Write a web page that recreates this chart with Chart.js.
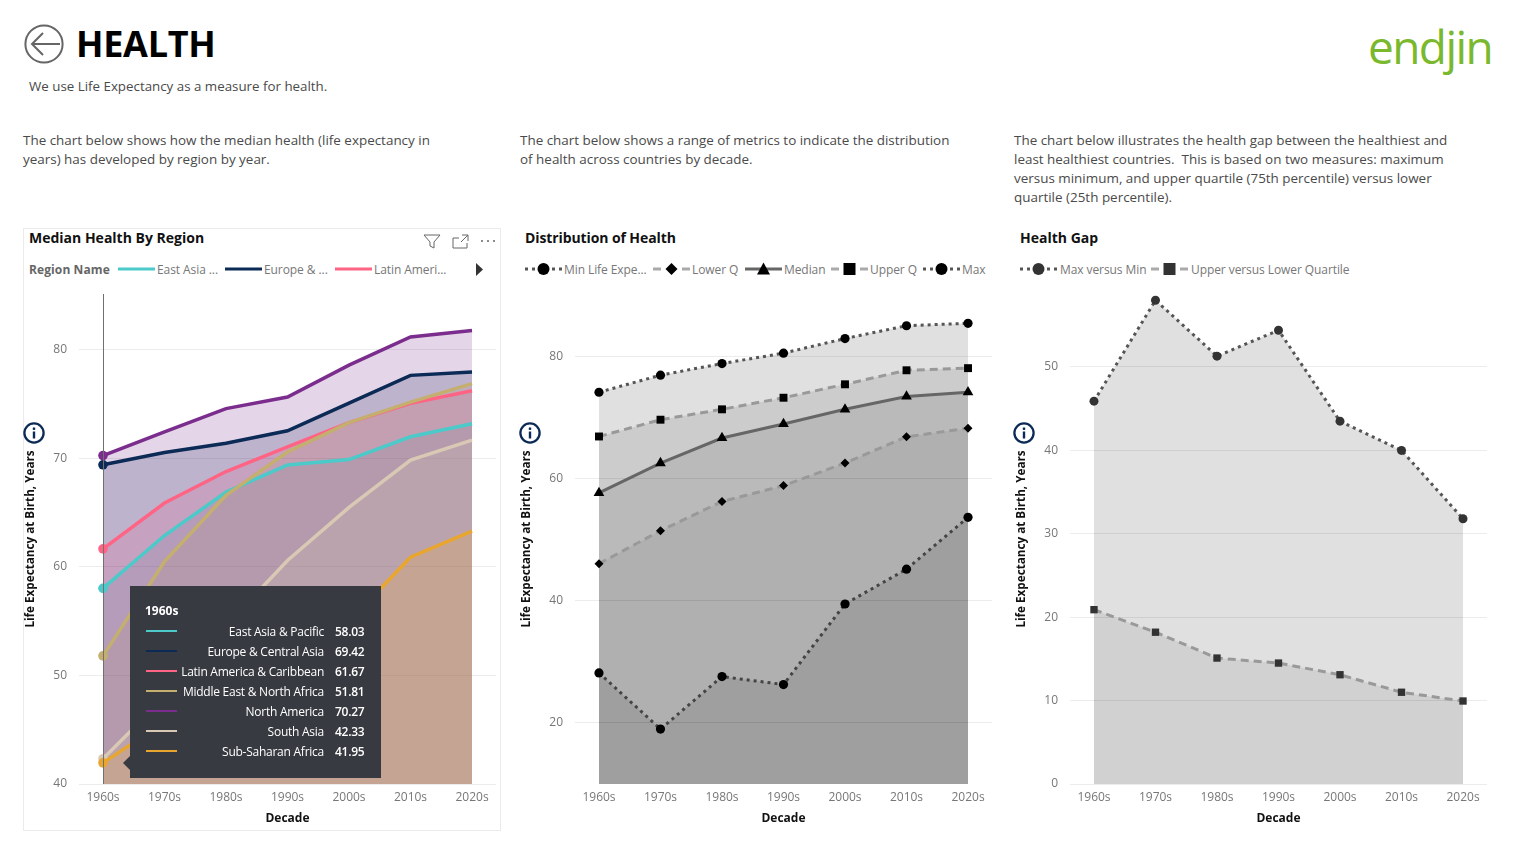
<!DOCTYPE html>
<html>
<head>
<meta charset="utf-8">
<title>Health</title>
<script src="https://cdn.jsdelivr.net/npm/chart.js@4"></script>
<style>
  html, body { margin: 0; padding: 0; background: #fff; }
  body { width: 1518px; height: 853px; position: relative; overflow: hidden; font-family: 'Open Sans', sans-serif; color: #333; }
  .abs { position: absolute; white-space: nowrap; }
  canvas { position: absolute; }
  .para { font-size: 13.45px; line-height: 19px; color: #4a4a4a; }
  .title { font-size: 14px; font-weight: 700; color: #111; }
  .leg { font-size: 12px; color: #777; line-height: 16px; letter-spacing: -0.08px; }
  .card { position: absolute; left: 23px; top: 228px; width: 478px; height: 603px; border: 1px solid #ebebeb; box-sizing: border-box; }
  #tip { position: absolute; left: 130px; top: 586px; width: 251px; height: 192px; background: #373a40; color: #fff; font-size: 12px; }
  #tip:before { content: ''; position: absolute; left: -7px; top: 170px; border: 7px solid transparent; border-left: 0; border-right-color: #373a40; }
  #tip div { position: absolute; white-space: nowrap; line-height: 16px; letter-spacing: -0.25px; }
</style>
</head>
<body>
<div class="card"></div>

<svg class="abs" style="left:24px;top:24px" width="40" height="40" viewBox="0 0 40 40">
  <circle cx="20" cy="20" r="18.6" fill="none" stroke="#666" stroke-width="2"/>
  <path d="M36 20H8M19 9L8 20L19 31" fill="none" stroke="#666" stroke-width="2"/>
</svg>
<div class="abs" style="left:76px;top:19px;font-size:36px;line-height:50px;font-weight:700;color:#000;letter-spacing:-0.3px">HEALTH</div>
<div class="abs para" style="left:29px;top:77px;font-size:13.33px">We use Life Expectancy as a measure for health.</div>
<div class="abs" style="left:1368px;top:15px;font-size:46px;line-height:62px;font-weight:500;letter-spacing:-1.6px;color:#7ab82e">endjin</div>

<div class="abs para" style="left:23px;top:131px">The chart below shows how the median health (life expectancy in<br>years) has developed by region by year.</div>
<div class="abs para" style="left:520px;top:131px">The chart below shows a range of metrics to indicate the distribution<br>of health across countries by decade.</div>
<div class="abs para" style="left:1014px;top:131px">The chart below illustrates the health gap between the healthiest and<br>least healthiest countries.&nbsp; This is based on two measures: maximum<br>versus minimum, and upper quartile (75th percentile) versus lower<br>quartile (25th percentile).</div>

<div class="abs title" style="left:29px;top:228px">Median Health By Region</div>
<div class="abs title" style="left:525px;top:228px;letter-spacing:-0.1px">Distribution of Health</div>
<div class="abs title" style="left:1020px;top:228px">Health Gap</div>

<svg class="abs" style="left:422px;top:233px" width="76" height="16" viewBox="0 0 76 16">
  <path d="M2 2H18L12 9V15L8 13V9Z" fill="none" stroke="#666"/>
  <path d="M31 5V15H45V10M31 5H37M40 2H46V8M46 2L39 9" fill="none" stroke="#666"/>
  <circle cx="60" cy="8" r="1" fill="#666"/><circle cx="66" cy="8" r="1" fill="#666"/><circle cx="72" cy="8" r="1" fill="#666"/>
</svg>

<canvas id="medianChart" style="left:24px;top:294px" width="476" height="536"></canvas>
<canvas id="distChart" style="left:520px;top:294px" width="476" height="536"></canvas>
<canvas id="gapChart" style="left:1015px;top:294px" width="476" height="536"></canvas>

<div id="legends"></div>
<div id="tip"></div>

<script>
// ----------------------------------------------------
// DATA
// ----------------------------------------------------
const decades = ['1960s', '1970s', '1980s', '1990s', '2000s', '2010s', '2020s'];

const regionNames = ['East Asia & Pacific', 'Europe & Central Asia', 'Latin America & Caribbean', 'Middle East & North Africa', 'North America', 'South Asia', 'Sub-Saharan Africa'];
const regionColors = ['#4cc9c9', '#0b2a55', '#ff6485', '#c4af6e', '#7b2d8e', '#d9c8b4', '#e9a62f'];
const eastAsia = [58.03, 62.9, 66.9, 69.4, 69.9, 72.0, 73.2];
const europe = [69.42, 70.55, 71.4, 72.55, 75.1, 77.66, 77.97];
const latinAmerica = [61.67, 65.9, 68.8, 71.07, 73.3, 75.08, 76.25];
const middleEast = [51.81, 60.5, 66.6, 70.6, 73.3, 75.2, 76.9];
const northAmerica = [70.27, 72.46, 74.6, 75.66, 78.6, 81.2, 81.8];
const southAsia = [42.33, 48.0, 54.6, 60.6, 65.5, 69.85, 71.7];
const subSaharan = [41.95, 45.7, 49.0, 52.3, 55.0, 60.9, 63.3];
const regionValues = [eastAsia, europe, latinAmerica, middleEast, northAmerica, southAsia, subSaharan];

const minLife = [28.2, 19.0, 27.6, 26.3, 39.5, 45.2, 53.7];
const lowerQ = [46.1, 51.5, 56.3, 58.9, 62.6, 66.9, 68.3];
const medianLife = [57.7, 62.6, 66.7, 69.0, 71.4, 73.5, 74.2];
const upperQ = [66.95, 69.7, 71.4, 73.3, 75.5, 77.8, 78.15];
const maxLife = [74.2, 77.0, 78.9, 80.6, 83.0, 85.1, 85.5];

const maxVsMin = [45.9, 58.0, 51.3, 54.4, 43.5, 40.0, 31.8];
const upperVsLower = [20.9, 18.2, 15.1, 14.5, 13.1, 11.0, 9.95];

const medianTicks = [40, 50, 60, 70, 80];
const distTicks = [20, 40, 60, 80];
const gapTicks = [0, 10, 20, 30, 40, 50];

// ----------------------------------------------------
// CHART HELPERS
// ----------------------------------------------------
const AXIS_FONT = "'Open Sans', sans-serif";
const DOTTED = [3, 4];
const DASHED = [8, 5];
const KEY_DOTTED = [3, 4, 3, 17, 3, 4, 3];
const KEY_DASHED = [8, 21, 8];

function points(values) {
    return values.map((v, i) => ({ x: i, y: v }));
}

function baseOptions(yMin, yMax, yTicks) {
    return {
        responsive: false,
        animation: false,
        layout: { autoPadding: false, padding: { right: 4 } },
        plugins: {
            legend: { display: false },
            tooltip: { enabled: false },
            filler: { drawTime: 'beforeDatasetsDraw' }
        },
        scales: {
            x: {
                type: 'linear',
                min: -0.39,
                max: 6.39,
                afterBuildTicks: s => { s.ticks = decades.map((d, i) => ({ value: i })); },
                afterFit: s => { s.height = 46; s.paddingLeft = 0; s.paddingRight = 0; },
                grid: { display: false, drawTicks: false },
                border: { display: false },
                ticks: {
                    color: '#777', font: { family: AXIS_FONT, size: 12 }, padding: 6, maxRotation: 0, autoSkip: false,
                    callback: v => decades[v]
                },
                title: { display: true, text: 'Decade', color: '#111', font: { family: AXIS_FONT, size: 12, weight: 'bold' }, padding: { top: 4, bottom: 4 } }
            },
            y: {
                min: yMin,
                max: yMax,
                afterBuildTicks: s => { s.ticks = yTicks.map(v => ({ value: v })); },
                afterFit: s => { s.width = 55; s.paddingTop = 0; s.paddingBottom = 0; },
                grid: { color: '#ececec', drawTicks: false },
                border: { display: false },
                ticks: { color: '#777', font: { family: AXIS_FONT, size: 12 }, padding: 12 },
                title: { display: true, text: 'Life Expectancy at Birth, Years', color: '#111', font: { family: AXIS_FONT, size: 11.7, weight: 'bold' }, padding: { top: 0, bottom: 2.5 } }
            }
        }
    };
}

// vertical hover line at the first decade
const hoverLine = {
    id: 'hoverLine',
    afterDatasetsDraw(chart) {
        const { ctx, chartArea, scales } = chart;
        const x = Math.round(scales.x.getPixelForValue(0)) + 0.5;
        ctx.save();
        ctx.strokeStyle = '#707070';
        ctx.lineWidth = 1;
        ctx.beginPath();
        ctx.moveTo(x, chartArea.top);
        ctx.lineTo(x, chartArea.bottom);
        ctx.stroke();
        ctx.restore();
    }
};

function greySeries(label, values, fillAlpha, style, dash, lineColor, markColor, radius) {
    return {
        label, data: points(values), fill: 'start', backgroundColor: `rgba(0,0,0,${fillAlpha})`,
        borderColor: lineColor, borderWidth: 3, borderDash: dash, tension: 0,
        pointStyle: style, pointRadius: radius, pointBackgroundColor: markColor, pointBorderColor: markColor, pointBorderWidth: 0
    };
}

// ----------------------------------------------------
// CHARTS
// ----------------------------------------------------
new Chart(document.getElementById('medianChart'), {
    type: 'line',
    data: {
        datasets: regionValues.map((values, i) => ({
            label: regionNames[i],
            data: points(values),
            order: regionValues.length - i,
            fill: 'start',
            backgroundColor: regionColors[i] + '33',
            borderColor: regionColors[i],
            borderWidth: 3.5,
            tension: 0,
            pointRadius: ctx => ctx.dataIndex === 0 ? 4.8 : 0,
            pointBackgroundColor: regionColors[i],
            pointBorderWidth: 0
        }))
    },
    options: baseOptions(40, 85.16, medianTicks),
    plugins: [hoverLine]
});

new Chart(document.getElementById('distChart'), {
    type: 'line',
    data: {
        datasets: [
            greySeries('Min Life Expectancy', minLife, 0.1, 'circle', DOTTED, '#444', '#000', 4.6),
            greySeries('Lower Q', lowerQ, 0.06, 'rectRot', DASHED, '#999', '#000', 4.5),
            greySeries('Median', medianLife, 0.09, 'triangle', [], '#666', '#000', 6.2),
            greySeries('Upper Q', upperQ, 0.09, 'rect', DASHED, '#999', '#000', 5.6),
            greySeries('Max', maxLife, 0.12, 'circle', DOTTED, '#555', '#000', 4.6)
        ]
    },
    options: baseOptions(10, 90.3, distTicks)
});

new Chart(document.getElementById('gapChart'), {
    type: 'line',
    data: {
        datasets: [
            greySeries('Upper versus Lower Quartile', upperVsLower, 0.07, 'rect', DASHED, '#999', '#333', 5.2),
            greySeries('Max versus Min', maxVsMin, 0.12, 'circle', DOTTED, '#555', '#333', 4.5)
        ]
    },
    options: baseOptions(0, 58.75, gapTicks)
});

// ----------------------------------------------------
// LEGENDS (Power BI style keys: line with marker)
// ----------------------------------------------------
function legendKey(x, kind, color, dash, mark) {
    const dashAttr = dash.length ? `stroke-dasharray="${dash.join(',')}"` : '';
    let marker = '';
    if (kind === 'circle') marker = `<circle cx="18.5" cy="8" r="6" fill="${mark}"/>`;
    if (kind === 'rect') marker = `<rect x="12.5" y="2" width="12" height="12" fill="${mark}"/>`;
    if (kind === 'diamond') marker = `<path d="M18.5 2L24.5 8L18.5 14L12.5 8Z" fill="${mark}"/>`;
    if (kind === 'triangle') marker = `<path d="M18.5 1.5L25 13.5H12Z" fill="${mark}"/>`;
    return `<svg class="abs" style="left:${x}px;top:261px" width="37" height="16"><line x1="0" y1="8" x2="37" y2="8" stroke="${color}" stroke-width="3" ${dashAttr}/>${marker}</svg>`;
}

function legendText(x, text, extra) {
    return `<div class="abs leg" style="left:${x}px;top:262px;${extra || ''}">${text}</div>`;
}

document.getElementById('legends').innerHTML = [
    legendText(29, 'Region Name', 'font-weight:700;color:#666;letter-spacing:0.1px'),
    legendKey(118, 'none', regionColors[0], []),
    legendText(157, 'East Asia ...'),
    legendKey(225, 'none', regionColors[1], []),
    legendText(264, 'Europe &amp; ...'),
    legendKey(335, 'none', regionColors[2], []),
    legendText(374, 'Latin Ameri...'),
    '<svg class="abs" style="left:476px;top:263px" width="8" height="13"><path d="M0 0L7 6.5L0 13Z" fill="#333"/></svg>',
    legendKey(525, 'circle', '#555', KEY_DOTTED, '#000'),
    legendText(564, 'Min Life Expe...'),
    legendKey(653, 'diamond', '#aaa', KEY_DASHED, '#000'),
    legendText(692, 'Lower Q'),
    legendKey(745, 'triangle', '#666', [], '#000'),
    legendText(784, 'Median'),
    legendKey(831, 'rect', '#aaa', KEY_DASHED, '#000'),
    legendText(870, 'Upper Q'),
    legendKey(923, 'circle', '#555', KEY_DOTTED, '#000'),
    legendText(962, 'Max'),
    legendKey(1020, 'circle', '#555', KEY_DOTTED, '#333'),
    legendText(1060, 'Max versus Min'),
    legendKey(1151, 'rect', '#aaa', KEY_DASHED, '#333'),
    legendText(1191, 'Upper versus Lower Quartile')
].join('');

// info icons
[34, 530, 1024].forEach(cx => {
    document.getElementById('legends').insertAdjacentHTML('beforeend',
        `<svg class="abs" style="left:${cx - 11}px;top:422px" width="22" height="22"><circle cx="11" cy="11" r="9.6" fill="#fff" stroke="#0b2a55" stroke-width="2.3"/><rect x="9.8" y="9.5" width="2.4" height="7" fill="#0b2a55"/><rect x="9.8" y="5.5" width="2.4" height="2.4" fill="#0b2a55"/></svg>`);
});

// ----------------------------------------------------
// TOOLTIP for the 1960s
// ----------------------------------------------------
const tip = document.getElementById('tip');
let tipHtml = `<div style="left:15px;top:17px;font-weight:700;letter-spacing:0">${decades[0]}</div>`;
regionNames.forEach((name, i) => {
    const top = 38 + i * 20;
    tipHtml += `<div style="left:16px;top:${top + 6}px;width:31px;height:2px;background:${regionColors[i]}"></div>`;
    tipHtml += `<div style="right:57px;top:${top}px">${name.replace(/&/g, '&amp;')}</div>`;
    tipHtml += `<div style="left:205px;top:${top}px;font-weight:600">${regionValues[i][0].toFixed(2)}</div>`;
});
tip.innerHTML = tipHtml;
</script>
</body>
</html>
